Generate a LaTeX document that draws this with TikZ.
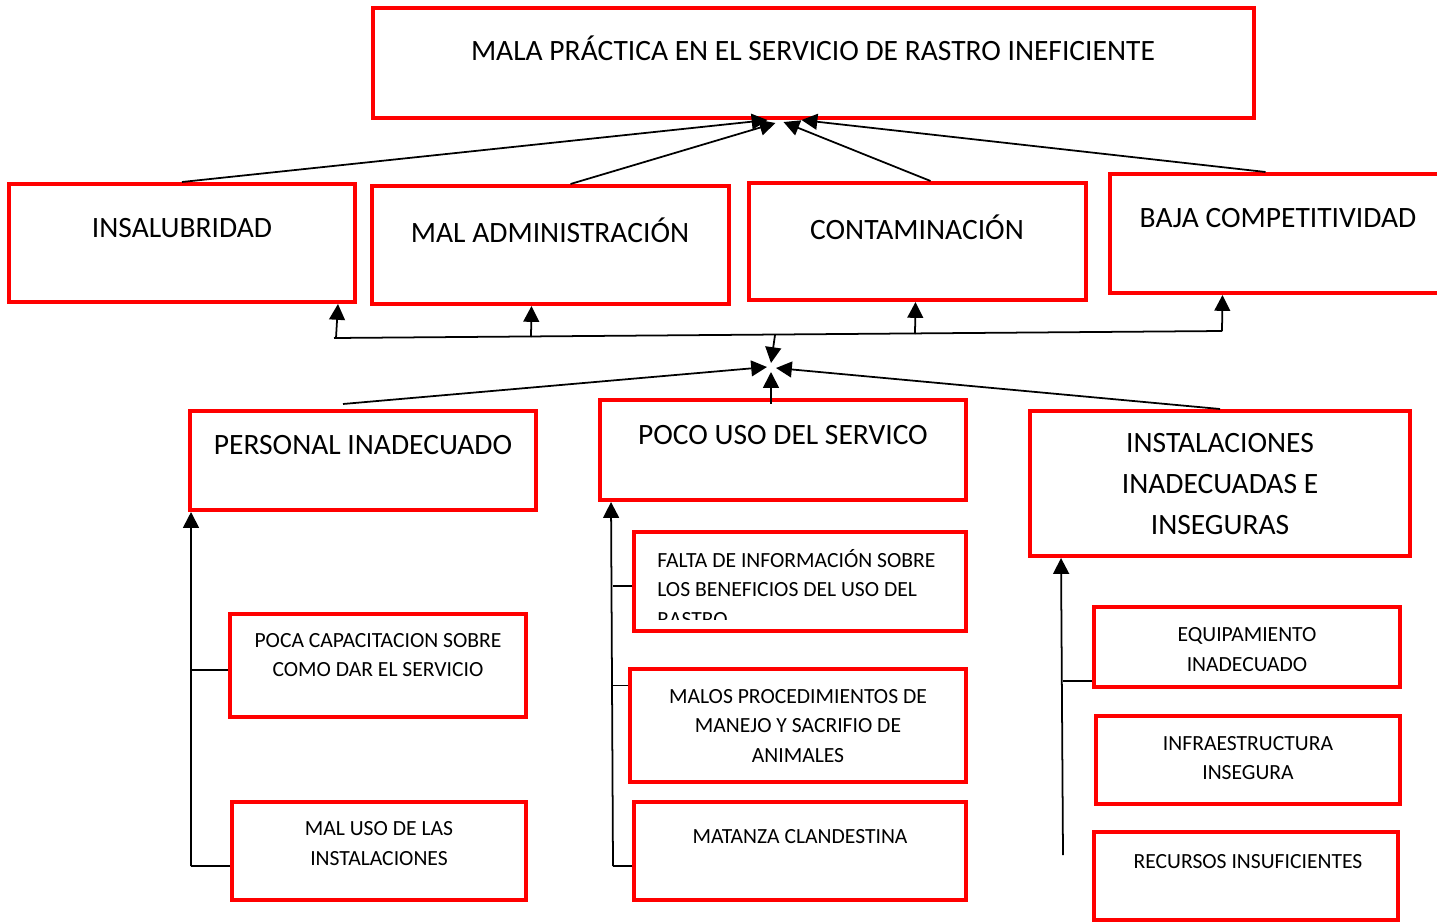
\documentclass[tikz,border=0pt]{standalone}
\usepackage{fontspec}
\setmainfont{Carlito}
\usetikzlibrary{arrows.meta}

\begin{document}
\begin{tikzpicture}[
  x=0.02cm, y=-0.02cm,
  box/.style={draw=red, line width=2.3pt, inner sep=0pt},
  big/.style={font=\fontsize{16.8}{18}\selectfont, inner sep=0pt},
  small/.style={font=\fontsize{12.3}{17}\selectfont, align=center, inner sep=0pt},
  arr/.style={-{Triangle[length=9pt,width=9pt]}, line width=1pt},
  tie/.style={line width=1pt}
]
\useasboundingbox (0,0) rectangle (1437,923);

% Effect (top)
\node[box, minimum width=17.62cm, minimum height=2.2cm] (efecto) at (813.5,63) {};
\node[big] (efecto-t) at (813,48) {MALA PRÁCTICA EN EL SERVICIO DE RASTRO INEFICIENTE};

% Consequences
\node[box, minimum width=6.92cm, minimum height=2.36cm] (insal) at (182,243) {};
\node[big] (insal-t) at (182,228) {INSALUBRIDAD};
\node[box, minimum width=7.14cm, minimum height=2.36cm] (admin) at (550.5,245) {};
\node[big] (admin-t) at (550,230) {MAL ADMINISTRACIÓN};
\node[box, minimum width=6.74cm, minimum height=2.34cm] (conta) at (917.5,241.5) {};
\node[big] (conta-t) at (917,227) {CONTAMINACIÓN};
\node[box, minimum width=6.7cm, minimum height=2.38cm] (baja) at (1277.5,233.5) {};
\node[big] (baja-t) at (1278,218) {BAJA COMPETITIVIDAD};

% Causes
\node[box, minimum width=6.92cm, minimum height=1.98cm] (perso) at (363,460.5) {};
\node[big] (perso-t) at (363,445) {PERSONAL INADECUADO};
\node[box, minimum width=7.32cm, minimum height=2.0cm] (poco) at (783,450) {};
\node[big] (poco-t) at (783,435) {POCO USO DEL SERVICO};
\node[box, minimum width=7.6cm, minimum height=2.9cm] (insta) at (1220,483.5) {};
\node[big, align=center, font=\fontsize{16.8}{23.3}\selectfont] (insta-t) at (1220,484)
  {INSTALACIONES\\INADECUADAS E\\INSEGURAS};

% Sub-causes, left
\node[box, minimum width=5.92cm, minimum height=2.06cm] (capac) at (378,665.5) {};
\node[small] (capac-t) at (378,655) {POCA CAPACITACION SOBRE\\COMO DAR EL SERVICIO};
\node[box, minimum width=5.88cm, minimum height=1.96cm] (maluso) at (379,851) {};
\node[small] (maluso-t) at (379,843.5) {MAL USO DE LAS\\INSTALACIONES};

% Sub-causes, middle
\node[box, minimum width=6.64cm, minimum height=1.98cm] (falta) at (800,581.5) {};
\begin{scope}
  \clip (636,534) rectangle (964,619);
  \node[small, align=left, anchor=west] (falta-t) at (657,588)
    {FALTA DE INFORMACIÓN SOBRE\\LOS BENEFICIOS DEL USO DEL\\RASTRO};
\end{scope}
\node[box, minimum width=6.72cm, minimum height=2.26cm] (malos) at (798,725.5) {};
\node[small] (malos-t) at (798,726) {MALOS PROCEDIMIENTOS DE\\MANEJO Y SACRIFIO DE\\ANIMALES};
\node[box, minimum width=6.64cm, minimum height=1.96cm] (matan) at (800,851) {};
\node[small] (matan-t) at (800,837) {MATANZA CLANDESTINA};

% Sub-causes, right
\node[box, minimum width=6.12cm, minimum height=1.6cm] (equip) at (1247,647) {};
\node[small] (equip-t) at (1247,649.5) {EQUIPAMIENTO\\INADECUADO};
\node[box, minimum width=6.08cm, minimum height=1.76cm] (infra) at (1248,760) {};
\node[small] (infra-t) at (1248,758) {INFRAESTRUCTURA\\INSEGURA};
\node[box, minimum width=6.08cm, minimum height=1.76cm] (recur) at (1246,876) {};
\node[small] (recur-t) at (1248,862) {RECURSOS INSUFICIENTES};

% Arrows into the effect
\draw[arr] (insal.north) -- ([shift={(-46,0)}]efecto.south);
\draw[arr] ([shift={(20,0)}]admin.north) -- ([shift={(-38,3)}]efecto.south);
\draw[arr] ([shift={(13,0)}]conta.north) -- ([shift={(-30,2)}]efecto.south);
\draw[arr] ([shift={(-12,0)}]baja.north) -- ([shift={(-12,0)}]efecto.south);

% Bus to the consequences
\coordinate (busL) at (334,338);
\coordinate (busR) at (1222,331);
\coordinate (bus1) at (336,338);
\coordinate (bus2) at (531,337);
\coordinate (bus3) at (915,334);
\coordinate (busC) at (775,335);
\draw[tie] (busL) -- (busR);
\draw[arr] (bus1) -- ([shift={(-19,0)}]insal.south east);
\draw[arr] (bus2) -- ([shift={(-19,0)}]admin.south);
\draw[arr] (bus3) -- ([shift={(-2,0)}]conta.south);
\draw[arr] (busR) -- ([shift={(-55,0)}]baja.south);

% Hub
\coordinate (hub) at (771,367);
\draw[arr] (busC) -- ([shift={(0,-4)}]hub);
\draw[arr] ([shift={(-20,-5)}]perso.north) -- ([shift={(-4,0)}]hub);
\draw[arr] (insta.north) -- ([shift={(5,1)}]hub);
\draw[arr] ([shift={(-12,6)}]poco.north) -- ([shift={(0,5)}]hub);

% Left trunk
\coordinate (lb) at (191,866);
\draw[arr] (lb) -- ([shift={(3,0)}]perso.south west);
\draw[tie] ([shift={(0,4.5)}]capac.west) -- ([shift={(0,4.5)}]capac.west -| lb);
\draw[tie] ([shift={(0,15)}]maluso.west) -- ([shift={(0,15)}]maluso.west -| lb);

% Middle trunk
\coordinate (mb) at (613,866);
\draw[arr] (mb) -- ([shift={(13,0)}]poco.south west);
\draw[tie] ([shift={(0,4.5)}]falta.west) -- ([shift={(0,4.5)}]falta.west -| mb);
\draw[tie] ([shift={(0,-40)}]malos.west) -- ([shift={(0,-40)}]malos.west -| mb);
\draw[tie] ([shift={(0,15)}]matan.west) -- ([shift={(0,15)}]matan.west -| mb);

% Right trunk
\coordinate (rb) at (1063,855);
\draw[arr] (rb) -- ([shift={(33,0)}]insta.south west);
\draw[tie] ([shift={(0,34)}]equip.west) -- ([shift={(0,34)}]equip.west -| rb);
\end{tikzpicture}
\end{document}
